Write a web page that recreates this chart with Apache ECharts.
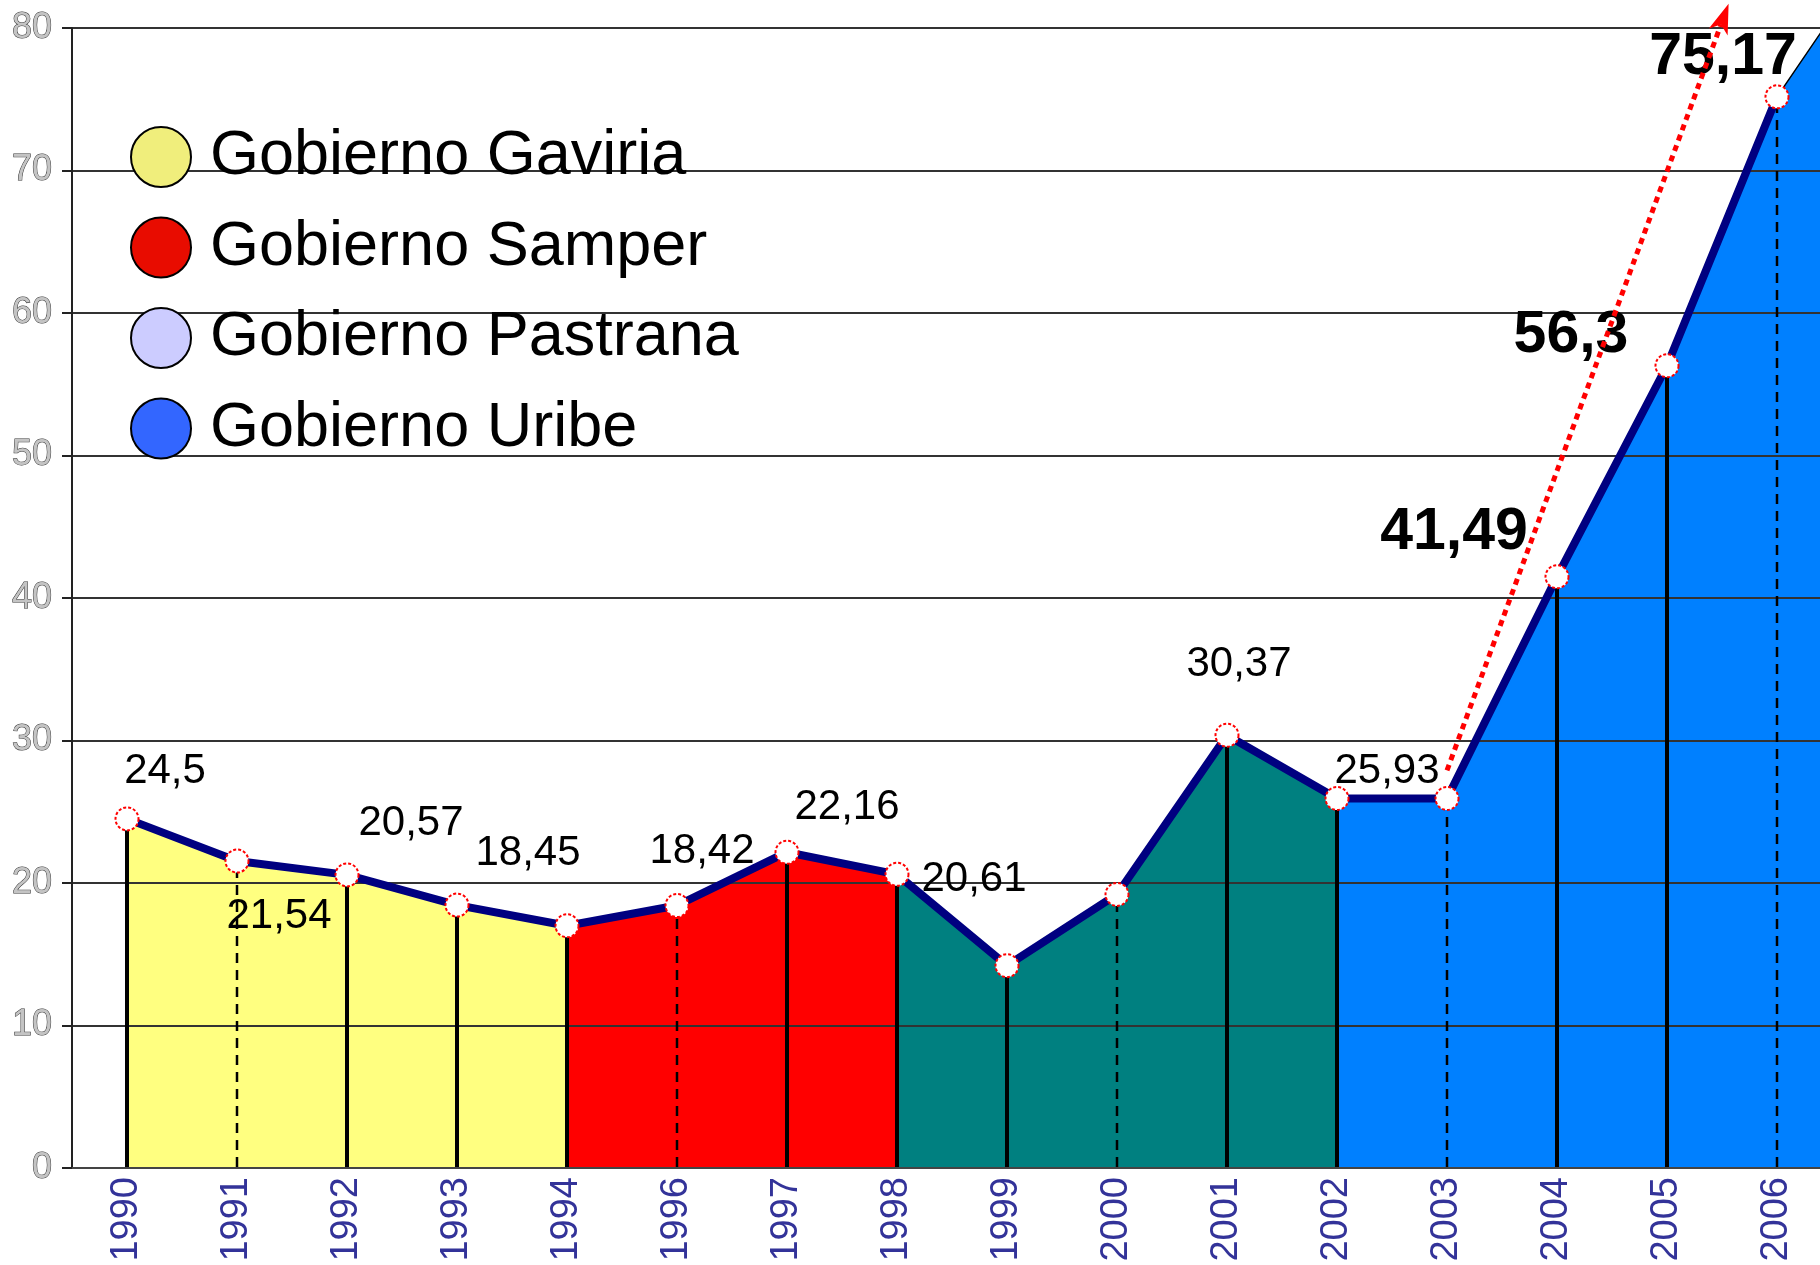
<!DOCTYPE html>
<html><head><meta charset="utf-8">
<script src="https://cdn.jsdelivr.net/npm/echarts@6/dist/echarts.min.js"></script>
<style>html,body{margin:0;padding:0;background:#fff;overflow:hidden}#c{width:1820px;height:1265px}</style>
</head><body><div id="c"></div>
<script>
// ---- data ----
const years = ['1990','1991','1992','1993','1994','1996','1997','1998','1999','2000','2001','2002','2003','2004','2005','2006'];
const values = [24.5, 21.54, 20.57, 18.45, 17.0, 18.42, 22.16, 20.61, 14.2, 19.2, 30.37, 25.93, 25.93, 41.49, 56.3, 75.17];
const tailCategory = '';
const uribeTailValue = 86.5;
const governments = ['Gobierno Gaviria', 'Gobierno Samper', 'Gobierno Pastrana', 'Gobierno Uribe'];
const periodStart = ['1990', '1994', '1998', '2002'];
const periodEnd = ['1994', '1998', '2002', '2006'];
const labeledYears = ['1990','1991','1992','1993','1996','1997','1998','2001','2002','2004','2005','2006'];
const highlightYears = ['2004','2005','2006'];
const dashedDropYears = ['1991','1996','2000','2003','2006'];
const trendArrow = [[12, 27.9], [14.56, 81.7]]; // [category position, value]
const yMin = 0, yMax = 80, yStep = 10;

// ---- styles ----
const areaColors = ['#FFFF80', '#FF0000', '#008080', '#0080FF'];
const legendColors = ['#F0EE7C', '#E80C00', '#CCCCFF', '#3366FF'];
const labelOffsets = {
  '1990': [38, -47], '1991': [42, 55], '1992': [64, -51], '1993': [71, -52],
  '1996': [25, -54], '1997': [60, -45], '1998': [77, 5], '2001': [12, -71],
  '2002': [50, -27], '2004': [-103, -44], '2005': [-96, -30], '2006': [-54, -39]
};
const FONT = 'Liberation Sans, Arial, sans-serif';

const allCats = years.concat([tailCategory]);
const fmt = v => String(v).replace('.', ',');

const areaSeries = governments.map((name, g) => {
  const s = years.indexOf(periodStart[g]);
  const e = years.indexOf(periodEnd[g]);
  const data = allCats.map((c, i) => {
    if (i >= s && i <= e) return values[i];
    if (g === governments.length - 1 && i === years.length) return uribeTailValue;
    return '-';
  });
  return {
    name, type: 'line', data, z: 1, showSymbol: false, symbol: 'none', silent: true,
    connectNulls: false,
    lineStyle: { color: '#000', width: 1.5 },
    itemStyle: { color: areaColors[g] },
    areaStyle: { color: areaColors[g], opacity: 1 }
  };
});

const lineData = years.map((y, i) => {
  const item = { value: values[i] };
  if (labeledYears.includes(y)) {
    const bold = highlightYears.includes(y);
    item.label = {
      show: true, position: 'inside', offset: labelOffsets[y],
      formatter: () => fmt(values[i]),
      fontSize: bold ? 59 : 42, fontWeight: bold ? 'bold' : 'normal',
      color: '#000', fontFamily: FONT
    };
  }
  return item;
});

const dropData = years.map((y, i) => [i, values[i], dashedDropYears.includes(y) ? 1 : 0]);

const chart = echarts.init(document.getElementById('c'), null, { renderer: 'canvas' });
chart.setOption({
  animation: false,
  backgroundColor: '#fff',
  grid: { left: 72, top: 28, width: 110 * allCats.length, height: 1140, containLabel: false, outerBoundsMode: 'none' },
  legend: {
    orient: 'vertical', left: 125, top: 120.5, itemGap: 27.5,
    itemWidth: 60, itemHeight: 60, icon: 'circle', selectedMode: false,
    data: governments.map((n, g) => ({ name: n, itemStyle: { color: legendColors[g], borderColor: '#000', borderWidth: 2 } })),
    textStyle: { fontSize: 63, color: '#000', fontFamily: FONT, lineHeight: 60, padding: [0, 0, 0, 14] }
  },
  xAxis: [{
    type: 'category', data: allCats, boundaryGap: true, z: 2,
    axisLine: { show: true, onZero: false, lineStyle: { color: '#444', width: 2 } },
    axisTick: { show: false },
    splitLine: { show: false },
    axisLabel: { rotate: 90, margin: 9, fontSize: 38, color: '#333399', fontFamily: FONT, interval: 0 }
  }, {
    type: 'value', min: -0.5, max: allCats.length - 0.5, show: false,
    axisLine: { onZero: false },
    splitLine: { show: false }
  }],
  yAxis: {
    type: 'value', min: yMin, max: yMax, interval: yStep, z: 2,
    axisLine: { show: true, onZero: false, lineStyle: { color: '#222', width: 2 } },
    axisTick: { show: true, length: 10, lineStyle: { color: '#222', width: 2 } },
    splitLine: { show: true, lineStyle: { color: '#333', width: 2 } },
    axisLabel: { margin: 20, fontSize: 36, color: '#c4c4c4', textBorderColor: '#333', textBorderWidth: 1, fontFamily: FONT }
  },
  series: areaSeries.concat([
    {
      name: 'drops', type: 'custom', z: 3, silent: true,
      data: dropData,
      renderItem: (params, api) => {
        const x = api.value(0), v = api.value(1), dashed = api.value(2) === 1;
        const p0 = api.coord([x, 0]);
        const p1 = api.coord([x, v]);
        return {
          type: 'line',
          shape: { x1: p0[0], y1: p0[1] - 1, x2: p1[0], y2: p1[1] },
          style: { stroke: '#000', lineWidth: dashed ? 2.5 : 4, lineDash: dashed ? [10, 7] : null }
        };
      }
    },
    {
      name: 'valor', type: 'line', z: 5, data: lineData, silent: true,
      symbol: 'circle', symbolSize: 23, showAllSymbol: true,
      lineStyle: { color: '#000080', width: 8, join: 'round' },
      itemStyle: { color: '#fff', borderColor: '#ff0000', borderWidth: 2, borderType: [3, 2] },
      label: { show: false }
    },
    {
      name: 'tendencia', type: 'custom', xAxisIndex: 1, z: 6, clip: false, silent: true,
      data: [[trendArrow[0][0], trendArrow[0][1], trendArrow[1][0], trendArrow[1][1]]],
      renderItem: (params, api) => {
        const a = api.coord([api.value(0), api.value(1)]);
        const b = api.coord([api.value(2), api.value(3)]);
        const dx = b[0] - a[0], dy = b[1] - a[1];
        const len = Math.sqrt(dx * dx + dy * dy);
        const ux = dx / len, uy = dy / len, nx = -uy, ny = ux;
        const headLen = 30, headW = 10, notch = 22;
        const base = [b[0] - ux * headLen, b[1] - uy * headLen];
        const mid = [b[0] - ux * notch, b[1] - uy * notch];
        return {
          type: 'group',
          children: [
            {
              type: 'line',
              shape: { x1: a[0], y1: a[1], x2: mid[0], y2: mid[1] },
              style: { stroke: '#ff0000', lineWidth: 5, lineDash: [6, 5] }
            },
            {
              type: 'polygon',
              shape: { points: [b, [base[0] + nx * headW, base[1] + ny * headW], mid, [base[0] - nx * headW, base[1] - ny * headW]] },
              style: { fill: '#ff0000' }
            }
          ]
        };
      }
    }
  ])
});
</script></body></html>
